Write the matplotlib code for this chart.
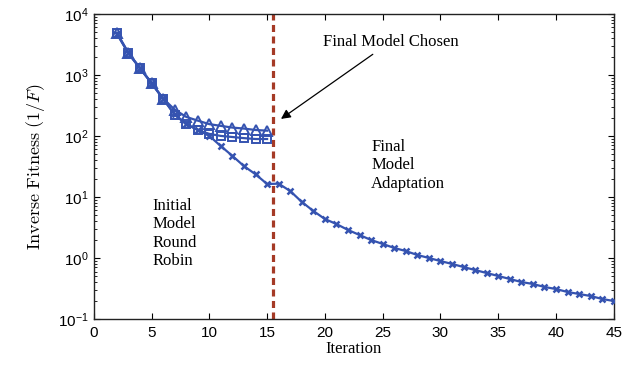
import matplotlib
matplotlib.use("Agg")
import matplotlib.pyplot as plt
import numpy as np

plt.rcParams['mathtext.fontset'] = 'cm'
plt.rcParams['font.family'] = ['Liberation Sans', 'DejaVu Sans']

iter_x = list(range(2, 46))
fit_x = [4700, 2250, 1280, 730, 405, 225, 157, 125, 100, 68, 47, 32, 23.5, 16.3, 16.5,
         12.5, 8.3, 5.9, 4.35, 3.6, 2.88, 2.38, 1.97, 1.70, 1.46, 1.30, 1.12, 1.0, 0.89,
         0.80, 0.71, 0.635, 0.567, 0.507, 0.453, 0.404, 0.375, 0.335, 0.31, 0.277,
         0.257, 0.238, 0.213, 0.197]

iter_tri = list(range(2, 16))
fit_tri = [4900, 2300, 1300, 740, 410, 270, 205, 178, 156, 146, 137, 132, 125, 122]

iter_sq = list(range(2, 16))
fit_sq = [4800, 2250, 1280, 730, 405, 222, 157, 125, 108, 100, 96, 92, 89, 89]

chosen_x = 15.5
xticks = [0, 5, 10, 15, 20, 25, 30, 35, 40, 45]

blue = '#3553b0'
red = '#a53a26'

fig = plt.figure(figsize=(6.38, 3.65), dpi=100)
ax = fig.add_axes([0.147, 0.126, 0.815, 0.836])

ax.plot(iter_x, fit_x, color=blue, lw=1.6, marker='x', ms=4.5, mew=1.8, zorder=3)
ax.plot(iter_sq, fit_sq, color=blue, lw=1.6, marker='s', ms=5.5, mew=1.4,
        mfc='none', zorder=3)
ax.plot(iter_tri, fit_tri, color=blue, lw=1.6, marker='^', ms=6.5, mew=1.4,
        mfc='none', zorder=3)

ax.axvline(chosen_x, color=red, lw=2.3, dashes=(2.2, 1.4), zorder=2)

ax.set_yscale('log')
ax.set_xlim(0, 45)
ax.set_ylim(0.1, 1e4)
ax.set_xticks(xticks)
ax.set_xticklabels([str(t) for t in xticks], fontsize=11)
for lab in ax.get_yticklabels():
    lab.set_fontsize(11)
ax.tick_params(which='both', direction='in', top=True, right=True)
ax.tick_params(which='major', length=4, width=0.8)
ax.tick_params(which='minor', length=2.5, width=0.6)
ax.tick_params(axis='x', pad=5)
for s in ax.spines.values():
    s.set_linewidth(1.0)
    s.set_color('#222222')

ax.set_ylabel(r'$\mathrm{Inverse\ Fitness}\ (1/F)$', fontsize=13, labelpad=8)
ax.set_xlabel('Iteration', family='Liberation Serif', fontsize=12, labelpad=1)

ax.annotate('Final Model Chosen', xy=(16.2, 190), xytext=(19.8, 3470),
            family='Liberation Serif', fontsize=12, va='center', ha='left',
            arrowprops=dict(arrowstyle='-|>', color='black', lw=0.9,
                            shrinkA=2, shrinkB=0, mutation_scale=14))
ax.text(5.1, 9.6, 'Initial\nModel\nRound\nRobin', family='Liberation Serif',
        fontsize=12, va='top', ha='left', linespacing=1.2)
ax.text(24.0, 89, 'Final\nModel\nAdaptation', family='Liberation Serif',
        fontsize=12, va='top', ha='left', linespacing=1.2)

fig.savefig('out.png', dpi=100)
